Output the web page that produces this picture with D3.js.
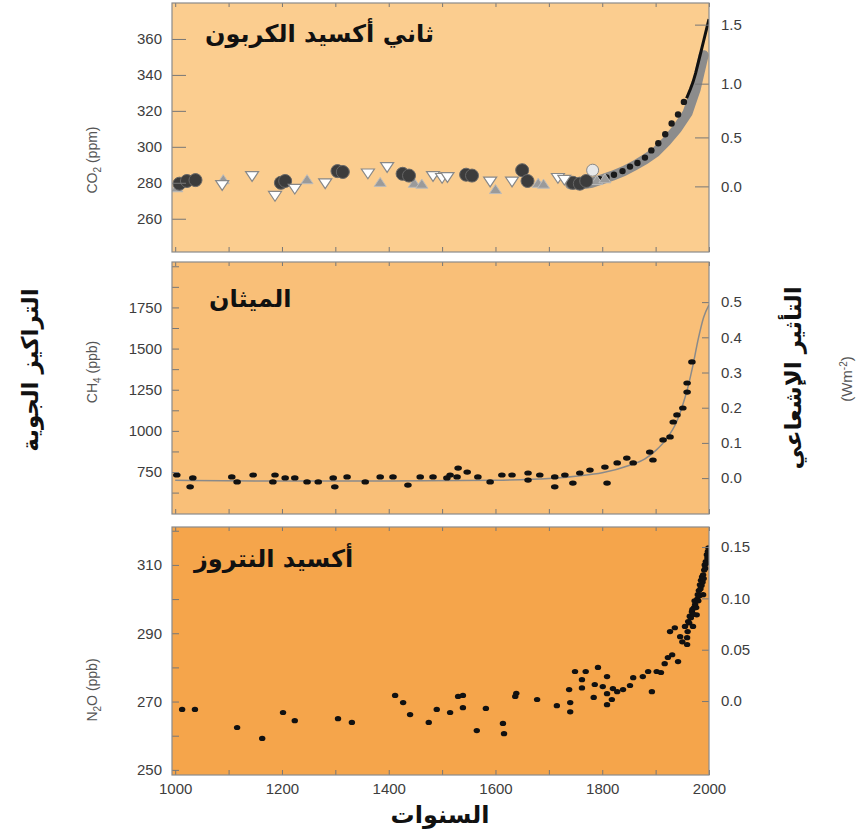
<!DOCTYPE html>
<head>
  <meta charset="utf-8">
  <script src="https://d3js.org/d3.v7.min.js"></script>
  <style>
    body { margin: 0; background: #fff; }
    svg { width: 867px; height: 835px; display: block; }
    .tick text { font-family: "Liberation Sans", Arial, sans-serif; fill: #3d3d3d; }
    .ar { font-family: "DejaVu Sans", sans-serif; font-weight: bold; fill: #111; }
  </style>
</head>

<body>
  <svg></svg>

  <script>
    // ---- CO2 (ppm) ----
    const co2CircleYears = [1008, 1022, 1038, 1198, 1206, 1304, 1314, 1426, 1438, 1545, 1556, 1650, 1660, 1745, 1758, 1770];
    const co2CircleVals  = [279.5, 281, 281.5, 280, 281, 286.5, 286, 285, 284, 284.5, 284, 287, 281, 280, 279.5, 281];
    const co2DownYears = [1088, 1144, 1187, 1224, 1281, 1361, 1397, 1483, 1500, 1510, 1590, 1631, 1717, 1729];
    const co2DownVals  = [279, 284, 273, 277, 280, 285.5, 289, 284, 283, 283.5, 281, 281, 283, 282];
    const co2UpYears = [1003, 1090, 1247, 1384, 1448, 1462, 1600, 1680, 1690, 1752, 1790, 1805];
    const co2UpVals  = [277, 281.5, 281.5, 280, 279.5, 279, 276, 279.5, 279, 280, 281, 282];
    const co2LightYears = [1782];
    const co2LightVals  = [287];
    const co2BandYears = [1740, 1760, 1780, 1800, 1820, 1840, 1860, 1880, 1900, 1920, 1940, 1960, 1975, 1990];
    const co2BandVals  = [279, 279, 280, 282, 284, 286.5, 289.5, 293, 297, 303, 310, 319, 332, 351];
    const co2DotYears = [1795, 1808, 1822, 1838, 1852, 1866, 1880, 1892, 1905, 1918, 1930, 1942, 1953];
    const co2DotVals  = [282, 283, 284.5, 286.5, 289, 291, 294, 298, 302, 307, 313, 318, 325];
    const co2LineYears = [1958, 1965, 1970, 1975, 1980, 1985, 1990, 1995, 2000];
    const co2LineVals  = [327, 332, 336, 341, 347, 353, 359, 365, 371];

    // ---- CH4 (ppb) ----
    const ch4Years = [1003, 1028, 1033, 1106, 1116, 1146, 1183, 1187, 1206, 1224, 1247, 1268, 1296, 1299, 1322, 1356,
      1384, 1408, 1436, 1459, 1483, 1509, 1515, 1528, 1530, 1547, 1567, 1590, 1612, 1631, 1661, 1661, 1683, 1711,
      1711, 1730, 1745, 1758, 1777, 1805, 1809, 1828, 1846, 1858, 1889, 1895, 1914, 1927, 1933, 1940, 1951, 1959,
      1959, 1968];
    const ch4Vals = [732, 660, 714, 720, 690, 732, 690, 732, 714, 714, 690, 690, 714, 660, 720, 690,
      720, 720, 671, 720, 720, 714, 732, 720, 774, 750, 720, 690, 732, 732, 744, 701, 732, 720,
      660, 732, 683, 744, 762, 780, 683, 805, 835, 805, 871, 823, 945, 963, 1054, 1097, 1139, 1236,
      1291, 1419];
    const ch4LineYears = [1000, 1200, 1400, 1600, 1700, 1750, 1800, 1850, 1880, 1900, 1920, 1940, 1950, 1960, 1970, 1980, 1990, 2000];
    const ch4LineVals  = [700, 695, 695, 700, 710, 725, 745, 790, 830, 880, 950, 1060, 1150, 1260, 1400, 1560, 1690, 1765];

    // ---- N2O (ppb) ----
    const n2oYears = [1013, 1037, 1116, 1163, 1202, 1224, 1305, 1331, 1412, 1427, 1440, 1475, 1490, 1515, 1530,
      1539, 1539, 1565, 1582, 1614, 1616, 1637, 1639, 1678, 1715, 1740, 1740, 1738, 1749, 1762, 1762, 1769,
      1784, 1786, 1792, 1801, 1809, 1809, 1809, 1818, 1820, 1828, 1839, 1852, 1858, 1876, 1886, 1893, 1902,
      1910, 1917, 1923, 1931, 1942, 1927, 1936, 1946, 1950, 1955, 1959, 1959, 1961, 1964, 1968, 1970, 1972,
      1974, 1977, 1979, 1981, 1983, 1985, 1987, 1989, 1989, 1991, 1992, 1994, 1996, 1998,
      1960, 1963, 1966, 1969, 1971, 1973, 1976, 1978, 1980, 1982, 1984, 1986, 1988, 1990, 1993, 1995, 1997, 1999];
    const n2oVals = [267.7, 267.7, 262.4, 259.2, 266.8, 264.4, 265, 263.9, 271.8, 269.7, 266.2, 263.9, 267.7, 266.8, 271.5,
      271.8, 268.2, 261.5, 268, 263.6, 260.6, 271.5, 272.4, 270.6, 268.8, 269.7, 267, 273.5, 278.8, 276.4, 274, 278.8,
      271.2, 275, 280, 274.4, 277.3, 272.3, 269.1, 270.6, 273.8, 272.9, 273.5, 274.7, 277, 277.3, 278.8, 272.9, 278.8,
      278.5, 281.1, 282.9, 283.7, 281.7, 290.5, 291.6, 289, 287.5, 292, 288.7, 286.7, 293.4, 295, 296.3, 292, 297.5,
      298.4, 295.4, 301.3, 302.5, 304.2, 305.5, 306.5, 307.1, 301.3, 308.5, 310, 311, 313, 314,
      290.5, 293, 294.5, 297, 295.5, 299.5, 297.5, 300, 299.5, 301, 303, 304, 305, 306, 309, 310.5, 312, 315];

    // ---- ticks ----
    const yearTicks = d3.range(1000, 2001, 100);
    const co2Ticks = [260, 280, 300, 320, 340, 360];
    const co2ForcingTicks = [0, 0.5, 1, 1.5];
    const ch4Ticks = d3.range(625, 2001, 125);
    const ch4ForcingTicks = [0, 0.1, 0.2, 0.3, 0.4, 0.5];
    const n2oTicks = [250, 260, 270, 280, 290, 300, 310, 320];
    const n2oForcingTicks = [0, 0.05, 0.10, 0.15];

    const svg = d3.select('svg');
    const left = 172, right = 709;
    const x = d3.scaleLinear().domain([994, 2000]).range([left, right]);

    const panels = [
      { top: 3, bottom: 252, fill: '#fbcd8f', title: 'ثاني أكسيد الكربون', tx: 205, ty: 42 },
      { top: 262, bottom: 514, fill: '#f9bf78', title: 'الميثان', tx: 209, ty: 307 },
      { top: 527, bottom: 775, fill: '#f5a54b', title: 'أكسيد النتروز', tx: 194, ty: 567 }
    ];
    const yCO2 = d3.scaleLinear().domain([241.5, 380]).range([252, 3]);
    const yCH4 = d3.scaleLinear().domain([495, 2026]).range([514, 262]);
    const yN2O = d3.scaleLinear().domain([248.5, 321.1]).range([775, 527]);
    const rCH4 = d3.scaleLinear().domain([-0.102, 0.614]).range([514, 262]);
    const rN2O = d3.scaleLinear().domain([-0.072, 0.1695]).range([775, 527]);

    // backgrounds
    svg.selectAll('rect.bg')
      .data(panels).enter().append('rect')
      .attr('class', 'bg')
      .attr('x', left).attr('y', d => d.top)
      .attr('width', right - left).attr('height', d => d.bottom - d.top)
      .attr('fill', d => d.fill);

    const clip = svg.append('defs');
    panels.forEach((p, i) => {
      clip.append('clipPath').attr('id', 'c' + i).append('rect')
        .attr('x', left).attr('y', p.top).attr('width', right - left).attr('height', p.bottom - p.top);
    });

    /*****************************************************
    ** CO2 panel
    ******************************************************/
    const g1 = svg.append('g').attr('clip-path', 'url(#c0)');
    const line = (ys, xs, y) => d3.line().x((d, i) => x(xs[i])).y(d => y(d))(ys);

    g1.append('path')
      .attr('d', line(co2BandVals, co2BandYears, yCO2))
      .attr('fill', 'none').attr('stroke', '#8c8c8c').attr('stroke-width', 10)
      .attr('stroke-linecap', 'round');
    g1.selectAll('circle.dot')
      .data(co2DotVals).enter().append('circle')
      .attr('cx', (d, i) => x(co2DotYears[i])).attr('cy', d => yCO2(d))
      .attr('r', 3.2).attr('fill', '#1a1a1a');
    g1.append('path')
      .attr('d', line(co2LineVals, co2LineYears, yCO2))
      .attr('fill', 'none').attr('stroke', '#111').attr('stroke-width', 3);

    const tri = (cx, cy, s, down) => down
      ? `M${cx - s},${cy - s * 0.6}L${cx + s},${cy - s * 0.6}L${cx},${cy + s * 0.9}Z`
      : `M${cx - s},${cy + s * 0.6}L${cx + s},${cy + s * 0.6}L${cx},${cy - s * 0.9}Z`;

    g1.selectAll('path.up')
      .data(co2UpVals).enter().append('path')
      .attr('d', (d, i) => tri(x(co2UpYears[i]), yCO2(d), 6, false))
      .attr('fill', '#9a9a9a').attr('stroke', '#bbb').attr('stroke-width', 1);
    g1.selectAll('circle.big')
      .data(co2CircleVals).enter().append('circle')
      .attr('cx', (d, i) => x(co2CircleYears[i])).attr('cy', d => yCO2(d))
      .attr('r', 6.5).attr('fill', '#3c3c3c').attr('stroke', '#666');
    g1.selectAll('circle.light')
      .data(co2LightVals).enter().append('circle')
      .attr('cx', (d, i) => x(co2LightYears[i])).attr('cy', d => yCO2(d))
      .attr('r', 6).attr('fill', '#e8e8e8').attr('stroke', '#888');
    g1.selectAll('path.down')
      .data(co2DownVals).enter().append('path')
      .attr('d', (d, i) => tri(x(co2DownYears[i]), yCO2(d), 6.5, true))
      .attr('fill', '#fff').attr('stroke', '#888').attr('stroke-width', 1.2);

    /*****************************************************
    ** CH4 panel
    ******************************************************/
    const g2 = svg.append('g').attr('clip-path', 'url(#c1)');
    g2.append('path')
      .attr('d', d3.line().curve(d3.curveMonotoneX).x((d, i) => x(ch4LineYears[i])).y(d => yCH4(d))(ch4LineVals))
      .attr('fill', 'none').attr('stroke', '#8a8a8a').attr('stroke-width', 1.5);
    g2.selectAll('ellipse')
      .data(ch4Vals).enter().append('ellipse')
      .attr('cx', (d, i) => x(ch4Years[i])).attr('cy', d => yCH4(d))
      .attr('rx', 3.8).attr('ry', 2.6).attr('fill', '#111');

    /*****************************************************
    ** N2O panel
    ******************************************************/
    const g3 = svg.append('g').attr('clip-path', 'url(#c2)');
    g3.selectAll('ellipse')
      .data(n2oVals).enter().append('ellipse')
      .attr('cx', (d, i) => x(n2oYears[i])).attr('cy', d => yN2O(d))
      .attr('rx', 3.2).attr('ry', 2.6).attr('fill', '#111');

    /*****************************************************
    ** axes
    ******************************************************/
    function styleAxis(g, size) {
      g.select('.domain').remove();
      g.selectAll('.tick line').attr('stroke', '#777');
      g.selectAll('.tick text').style('font-size', size + 'px');
    }

    panels.forEach((p, i) => {
      const bottomAxis = d3.axisBottom(x).tickValues(yearTicks).tickSize(-5)
        .tickFormat(d => (i === 2 && d % 200 === 0) ? d : '').tickPadding(8);
      svg.append('g').attr('transform', `translate(0,${p.bottom})`).call(bottomAxis).call(g => styleAxis(g, 15));
      svg.append('g').attr('transform', `translate(0,${p.top})`)
        .call(d3.axisTop(x).tickValues(yearTicks).tickSize(-4).tickFormat('')).call(g => styleAxis(g, 15));
    });

    svg.append('g').attr('transform', `translate(${left},0)`)
      .call(d3.axisLeft(yCO2).tickValues(co2Ticks).tickSize(-14).tickPadding(10))
      .call(g => styleAxis(g, 15));
    svg.append('g').attr('transform', `translate(${right},0)`)
      .call(d3.axisRight(yCO2)
        .tickValues(co2ForcingTicks.map(f => 278 * Math.exp(f / 5.35)))
        .tickFormat(c => d3.format('.1f')(5.35 * Math.log(c / 278)))
        .tickSize(-14).tickPadding(12))
      .call(g => styleAxis(g, 15));

    svg.append('g').attr('transform', `translate(${left},0)`)
      .call(d3.axisLeft(yCH4).tickValues(ch4Ticks).tickSize(-7).tickPadding(10)
        .tickFormat(d => (d % 250 === 0 && d >= 750 && d <= 1750) ? d : ''))
      .call(g => styleAxis(g, 15));
    svg.append('g').attr('transform', `translate(${right},0)`)
      .call(d3.axisRight(rCH4).tickValues(ch4ForcingTicks).tickSize(-7).tickPadding(12)
        .tickFormat(d3.format('.1f')))
      .call(g => styleAxis(g, 15));

    svg.append('g').attr('transform', `translate(${left},0)`)
      .call(d3.axisLeft(yN2O).tickValues(n2oTicks).tickSize(-7).tickPadding(10)
        .tickFormat(d => (d % 20 === 10 && d <= 310) || d === 250 || d === 270 || d === 290 ? d : ''))
      .call(g => styleAxis(g, 15));
    svg.append('g').attr('transform', `translate(${right},0)`)
      .call(d3.axisRight(rN2O).tickValues(n2oForcingTicks).tickSize(-7).tickPadding(12)
        .tickFormat(d => d === 0 ? '0.0' : d3.format('.2f')(d)))
      .call(g => styleAxis(g, 15));

    // panel borders
    svg.selectAll('rect.frame')
      .data(panels).enter().append('rect')
      .attr('x', left).attr('y', d => d.top)
      .attr('width', right - left).attr('height', d => d.bottom - d.top)
      .attr('fill', 'none').attr('stroke', '#8a8a8a').attr('stroke-width', 1.2);

    // panel titles
    svg.selectAll('text.title')
      .data(panels).enter().append('text')
      .attr('class', 'ar')
      .attr('x', d => d.tx).attr('y', d => d.ty)
      .attr('direction', 'rtl').attr('text-anchor', 'end')
      .style('font-size', '24px')
      .text(d => d.title);

    /*****************************************************
    ** axis titles
    ******************************************************/
    const unitLabels = [
      { y: 160, base: 'CO', sub: '2', unit: ' (ppm)' },
      { y: 372, base: 'CH', sub: '4', unit: ' (ppb)' },
      { y: 690, base: 'N', sub: '2', unit: 'O (ppb)' }
    ];
    unitLabels.forEach(u => {
      const t = svg.append('text')
        .attr('transform', `translate(97,${u.y})rotate(-90)`)
        .attr('text-anchor', 'middle')
        .style('font-family', '"Liberation Sans", Arial, sans-serif')
        .style('font-size', '14px').attr('fill', '#555');
      t.append('tspan').text(u.base);
      t.append('tspan').attr('dy', 4).style('font-size', '10px').text(u.sub);
      t.append('tspan').attr('dy', -4).text(u.unit);
    });

    svg.append('text').attr('class', 'ar')
      .attr('transform', 'translate(38,370)rotate(-90)')
      .attr('text-anchor', 'middle').style('font-size', '23px')
      .text('التراكيز الجوية');

    svg.append('text').attr('class', 'ar')
      .attr('transform', 'translate(801,378)rotate(-90)')
      .attr('text-anchor', 'middle').style('font-size', '23px')
      .text('التأثير الإشعاعي');

    const wm = svg.append('text')
      .attr('transform', 'translate(852,379)rotate(-90)')
      .attr('text-anchor', 'middle')
      .style('font-family', '"Liberation Sans", Arial, sans-serif')
      .style('font-size', '15px').attr('fill', '#555');
    wm.append('tspan').text('(Wm');
    wm.append('tspan').attr('dy', -5).style('font-size', '10px').text('-2');
    wm.append('tspan').attr('dy', 5).text(')');

    svg.append('text').attr('class', 'ar')
      .attr('x', 440).attr('y', 823)
      .attr('text-anchor', 'middle').style('font-size', '24px')
      .text('السنوات');
  </script>
</body>
